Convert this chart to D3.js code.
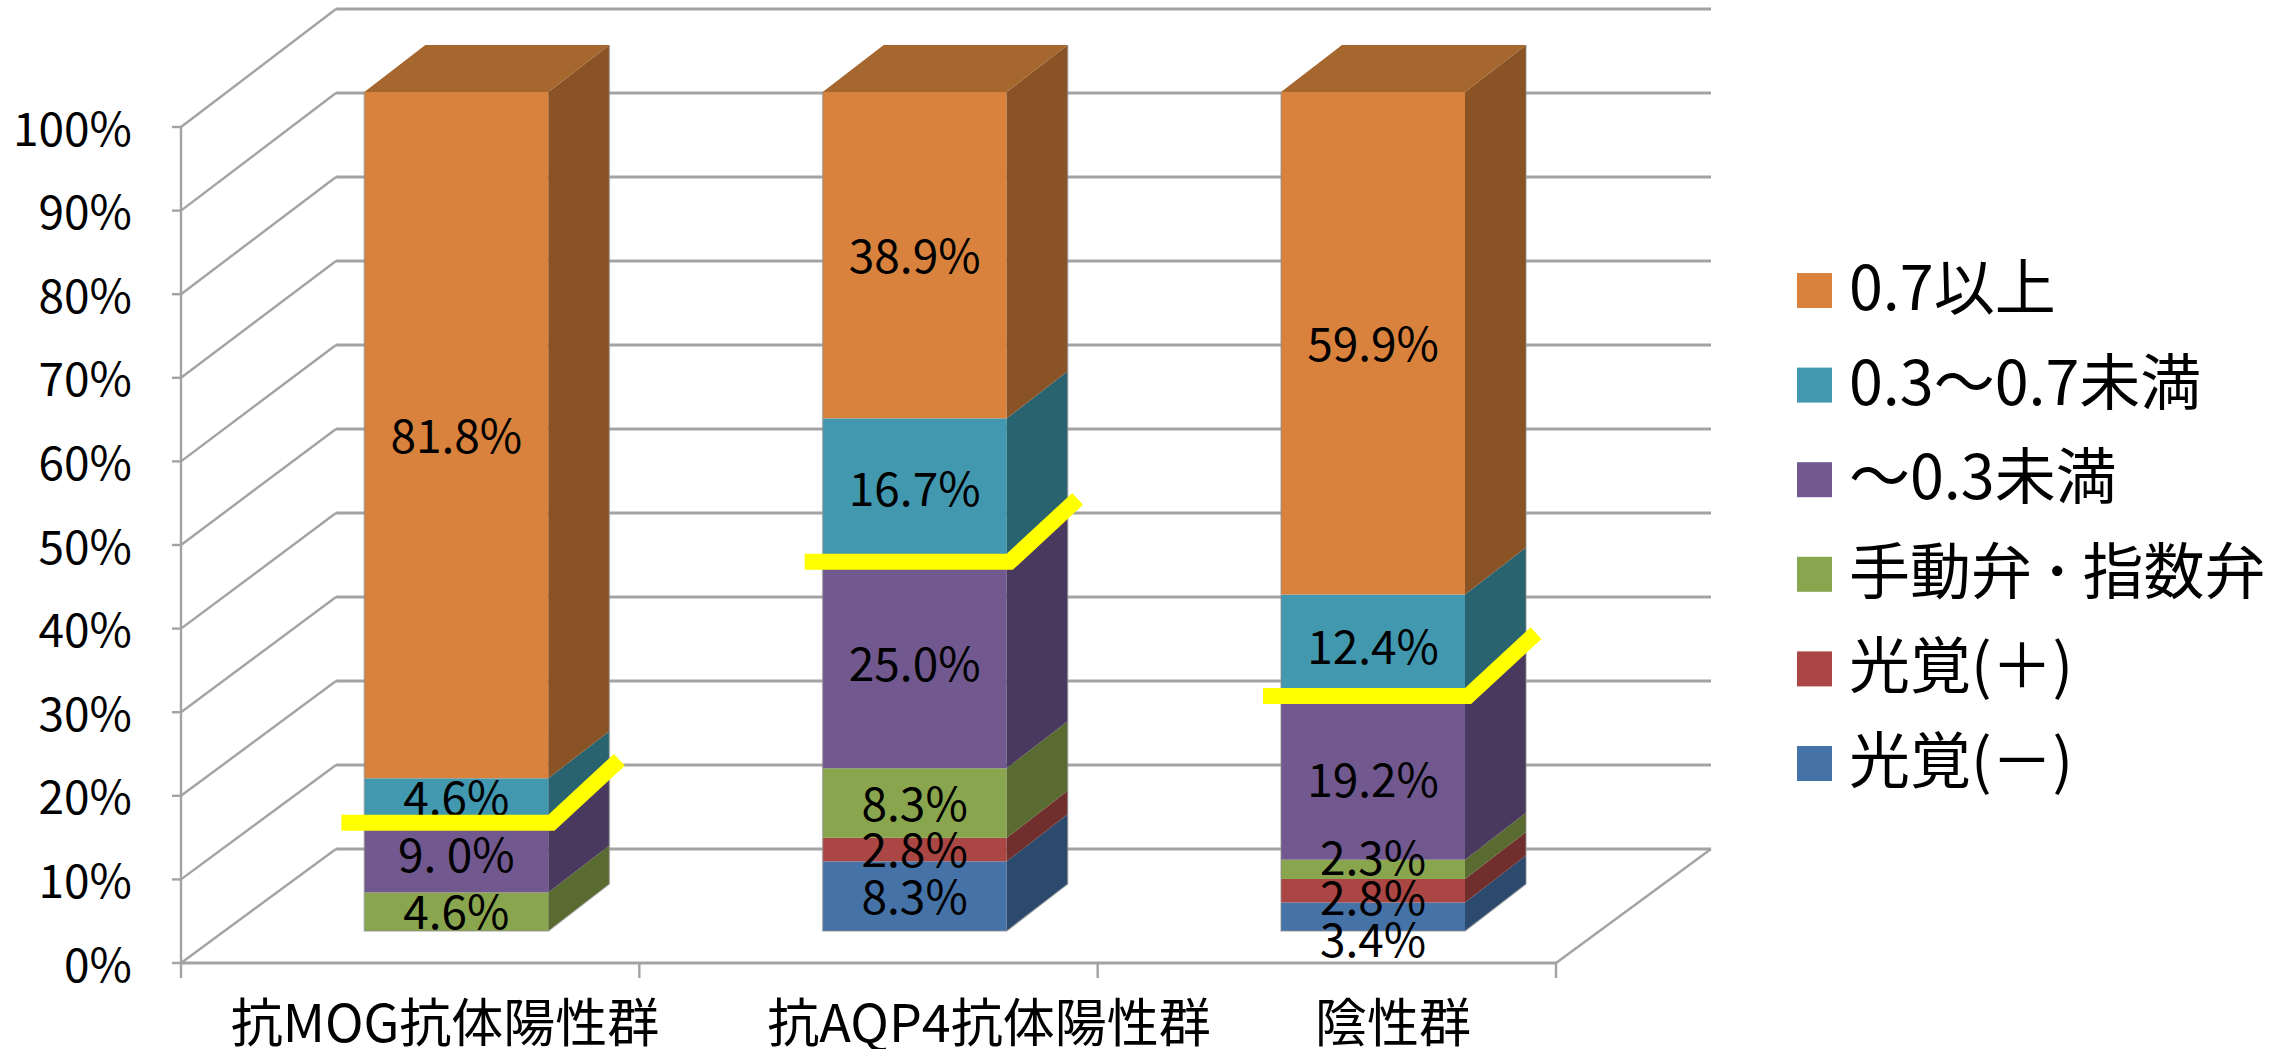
<!DOCTYPE html>
<html><head><meta charset="utf-8">
<script src="https://cdnjs.cloudflare.com/ajax/libs/d3/7.8.5/d3.min.js"></script>
<style>html,body{margin:0;background:#fff}svg{display:block}
text{font-family:"Noto Sans CJK JP",sans-serif;fill:#000}</style></head><body>
<svg id="c" width="2295" height="1049"></svg>
<script>
const categories = ["抗MOG抗体陽性群","抗AQP4抗体陽性群","陰性群"];
const seriesNames = ["光覚(－)","光覚(＋)","手動弁･指数弁","～0.3未満","0.3～0.7未満","0.7以上"];
const s0 = [0,8.3,3.4];
const s1 = [0,2.8,2.8];
const s2 = [4.6,8.3,2.3];
const s3 = [9.0,25.0,19.2];
const s4 = [4.6,16.7,12.4];
const s5 = [81.8,38.9,59.9];
const seriesValues = [s0,s1,s2,s3,s4,s5];
const frontColors = ["#4572A7","#AA4643","#89A54E","#71588F","#4198AF","#D9823D"];
const sideColors  = ["#2C4A6E","#702E2C","#5A6B32","#49395E","#29636F","#8A5326"];
const topColor = "#A5672E";
const yellowLevels = [12.9,44.0,28.0];
const yTicks = d3.range(0,101,10);

const svg = d3.select("#c");
const x = d3.scaleBand().domain(categories).range([181,1556]);
const y = d3.scaleLinear().domain([0,100]).range([963,127]);
const yBack = d3.scaleLinear().domain([0,100]).range([849,9]);
const yBar = d3.scaleLinear().domain([0,100]).range([931,92]);
const dX = 155;
const barLeft = 0.4;
const barW = 184, barDX = 61, barDY = 47;
const gridCol = "#A3A3A3";
const catLabelX = [445,989,1393];
const yellowOverhang = [23,18,18];

const g = svg.append("g").attr("fill","none").attr("stroke",gridCol);
yTicks.forEach(t=>{
  g.append("path").attr("stroke-width",2.4)
   .attr("d",`M${x.range()[0]},${y(t)}L${x.range()[0]+dX},${yBack(t)}`);
  g.append("path").attr("stroke-width",3.2)
   .attr("d",`M${x.range()[0]+dX},${yBack(t)}L${x.range()[1]+dX},${yBack(t)}`);
  g.append("path").attr("stroke-width",2.4)
   .attr("d",`M${x.range()[0]-9},${y(t)}H${x.range()[0]}`);
});
g.append("path").attr("stroke-width",2.4).attr("d",`M${x.range()[0]},${y(100)}V${y(0)+15}`);
g.append("path").attr("stroke-width",3.2).attr("d",`M${x.range()[0]},${y(0)}H${x.range()[1]}`);
g.append("path").attr("stroke-width",2.4).attr("d",`M${x.range()[1]},${y(0)}L${x.range()[1]+dX},${yBack(0)}`);
categories.forEach(c=>{
  const xx = x(c)+x.bandwidth();
  g.append("path").attr("stroke-width",2.4).attr("d",`M${xx},${y(0)}v15`);
});

svg.append("g").selectAll("text").data(yTicks).join("text")
  .attr("x",132).attr("y",t=>y(t)+2).attr("dy","0.36em").attr("text-anchor","end")
  .attr("font-size",46).text(t=>t+"%");
svg.append("g").selectAll("text").data(categories).join("text")
  .attr("x",(c,i)=>catLabelX[i]).attr("y",1042).attr("text-anchor","middle")
  .attr("font-size",52).text(c=>c);

const bars = svg.append("g");
const labelOverride = {"3-0":"9. 0%"};
const labelNudge = {"0-2":23,"1-2":7,"2-2":-12};
categories.forEach((c,i)=>{
  const bx = x(c)+x.bandwidth()*barLeft;
  let cum = 0;
  const segs = seriesValues.map((vals,k)=>{const s={k,v:vals[i],a:cum,b:cum+vals[i]};cum+=vals[i];return s;}).filter(s=>s.v>0);
  segs.forEach(s=>{
    const y0 = yBar(Math.min(s.a,100)), y1 = yBar(Math.min(s.b,100));
    bars.append("rect").attr("x",bx).attr("y",y1).attr("width",barW).attr("height",y0-y1).attr("fill",frontColors[s.k]);
    bars.append("path").attr("fill",sideColors[s.k])
      .attr("d",`M${bx+barW},${y0}L${bx+barW+barDX},${y0-barDY}V${y1-barDY}L${bx+barW},${y1}Z`);
  });
  const yt = yBar(100), yb = yBar(0);
  bars.append("path").attr("fill",topColor)
    .attr("d",`M${bx},${yt}L${bx+barDX},${yt-barDY}H${bx+barW+barDX}L${bx+barW},${yt}Z`);
  bars.append("path").attr("fill","none").attr("stroke","#8C8C8C").attr("stroke-opacity",0.55).attr("stroke-width",1.5)
    .attr("d",`M${bx},${yt}V${yb}H${bx+barW}L${bx+barW+barDX},${yb-barDY}V${yt-barDY}`);
  segs.forEach(s=>{
    const t = labelOverride[s.k+"-"+i] || d3.format(".1f")(s.v)+"%";
    bars.append("text").attr("x",bx+barW/2)
      .attr("y",yBar((s.a+Math.min(s.b,100))/2)+(labelNudge[s.k+"-"+i]||0)+1)
      .attr("dy","0.36em").attr("text-anchor","middle").attr("font-size",46).text(t);
  });
  const ly = yBar(yellowLevels[i]);
  bars.append("path").attr("fill","none").attr("stroke","#FFFF00").attr("stroke-width",16)
    .attr("stroke-linejoin","miter")
    .attr("d",`M${bx-yellowOverhang[i]},${ly}H${bx+barW+3}L${bx+barW+barDX+10},${ly-63}`);
});

const lg = svg.append("g");
seriesNames.slice().reverse().forEach((n,i)=>{
  const yy = 290+i*94.6;
  lg.append("rect").attr("x",1797).attr("y",yy-17).attr("width",35).attr("height",35)
    .attr("fill",frontColors[5-i]);
  const t = lg.append("text").attr("x",1849).attr("y",yy-2).attr("dy","0.36em").attr("font-size",61);
  if (n.includes("･")) {
    const [a,b] = n.split("･");
    t.append("tspan").text(a);
    t.append("tspan").attr("dx",10).text("･");
    t.append("tspan").attr("dx",10).text(b);
  } else t.text(n);
});
</script></body></html>
